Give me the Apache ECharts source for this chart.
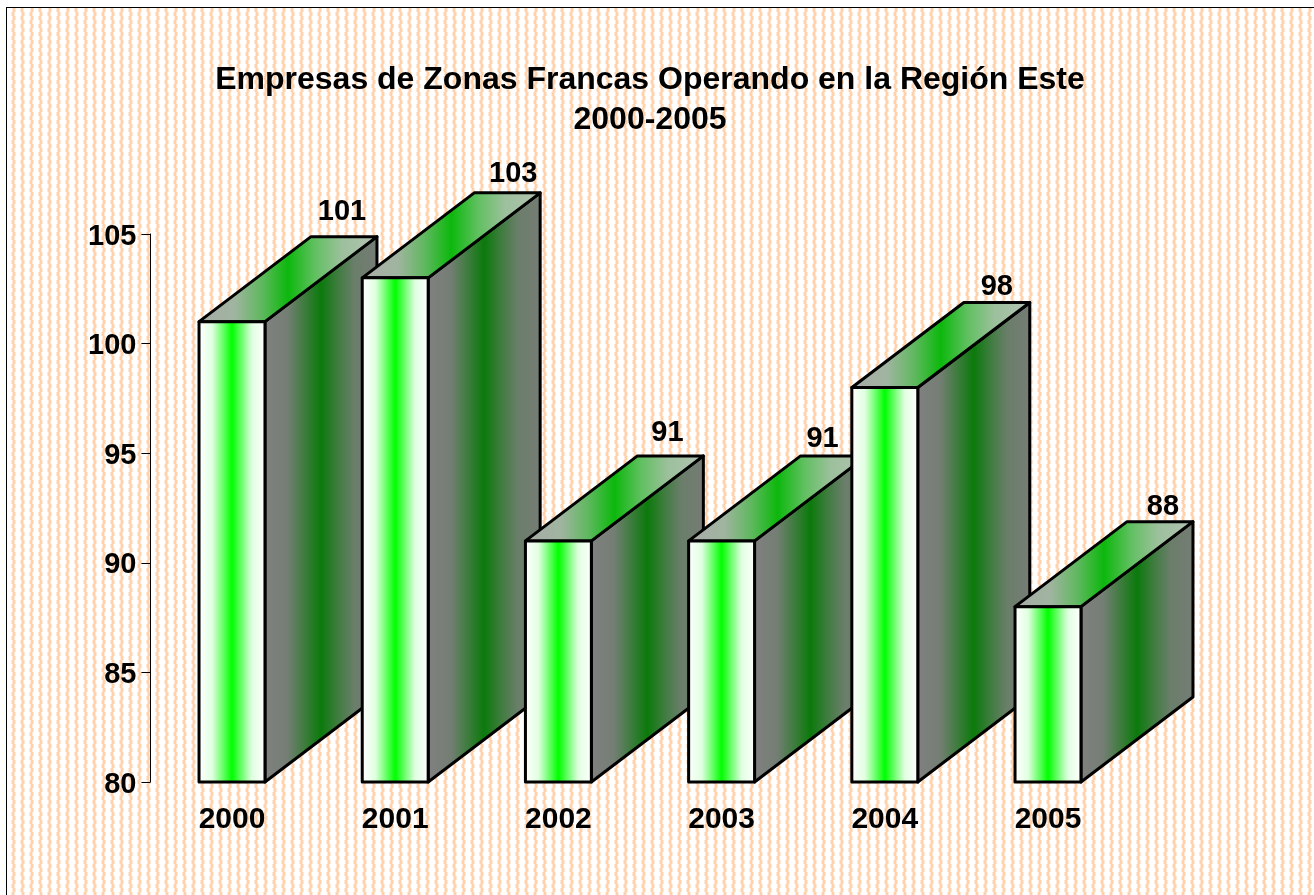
<!DOCTYPE html>
<html><head><meta charset="utf-8">
<style>html,body{margin:0;padding:0;background:#fff}#c{width:1314px;height:895px}</style>
<script src="https://cdn.jsdelivr.net/npm/echarts@6/dist/echarts.min.js"></script></head>
<body><div id="c"></div>
<script>
const years = ['2000','2001','2002','2003','2004','2005'];
const empresas = [101,103,91,91,98,88];
const yTicks = {min:80,max:105,interval:5};
const titleText = 'Empresas de Zonas Francas Operando en la Región Este\n2000-2005';
// hand placement of each value label relative to the top back edge
const labelDx = [-2,6,-3,-11,0,3];
const labelDy = [10,4,8,2,1,0];

function tile(){
  const c=document.createElement('canvas');c.width=18;c.height=8;
  const g=c.getContext('2d');g.fillStyle='#fff';g.fillRect(0,0,18,8);
  const off=[0,0,0,0,1,1,1,1];
  for(let y=0;y<8;y++){
    [[3,0],[12,4]].forEach(function(p){
      const o=off[(y+p[1])%8];
      g.fillStyle='#ffd2ab';g.fillRect(p[0]+o,y,2,1);
      g.fillStyle='#ffe9d6';g.fillRect(p[0]+o-1,y,1,1);g.fillRect(p[0]+o+2,y,1,1);
    });
  }
  return c;
}
const grad=(x,x2,stops)=>new echarts.graphic.LinearGradient(x,0,x2,0,stops.map(s=>({offset:s[0],color:s[1]})),true);
const DX=112,DY=85;
const frontStops=[[0,'#fff'],[.2,'#e0ffe0'],[.35,'#70ff70'],[.5,'#00ff00'],[.65,'#70ff70'],[.8,'#e0ffe0'],[1,'#fff']];
const sideStops=[[0,'#808080'],[.2,'#747e74'],[.35,'#3f7c3f'],[.5,'#0b7a0b'],[.65,'#3f7c3f'],[.8,'#6a7e6a'],[1,'#767c76']];
const topStops=[[0,'#a8aca8'],[.2,'#a0b4a0'],[.35,'#60b860'],[.5,'#0cb80c'],[.65,'#60c060'],[.8,'#9cc09c'],[1,'#b4c2b4']];
function renderItem(params,api){
  const i=api.value(0),v=api.value(1);
  const top=api.coord([i,v]),base=api.coord([i,80]);
  const w=api.size([1,0])[0]*0.404;
  const l=top[0]-w/2,r=top[0]+w/2,t=top[1],b=base[1];
  const line={stroke:'#000',lineWidth:3,lineJoin:'round'};
  return {type:'group',children:[
    {type:'polygon',shape:{points:[[r,t],[r+DX,t-DY],[r+DX,b-DY],[r,b]]},
     style:Object.assign({fill:grad(r,r+DX,sideStops)},line)},
    {type:'polygon',shape:{points:[[l,t],[l+DX,t-DY],[r+DX,t-DY],[r,t]]},
     style:Object.assign({fill:grad(l,r+DX,topStops)},line)},
    {type:'rect',shape:{x:l,y:t,width:w,height:b-t},
     style:Object.assign({fill:grad(l,r,frontStops)},line)},
    {type:'text',z2:50,style:{text:String(v),x:l+DX+w/2+labelDx[i],y:t-DY-labelDy[i],
      textAlign:'center',textVerticalAlign:'bottom',
      font:'bold 29px "Liberation Sans",Arial,sans-serif',fill:'#000'}}
  ]};
}
const chart=echarts.init(document.getElementById('c'),null,{renderer:'canvas'});
const labelFont={color:'#000',fontFamily:'"Liberation Sans",Arial,sans-serif',fontWeight:'bold'};
chart.setOption({
  animation:false,backgroundColor:'#fff',
  title:{text:titleText,left:645,top:55,textAlign:'center',
    textStyle:{fontFamily:'"Liberation Sans",Arial,sans-serif',fontWeight:'bold',fontSize:32,lineHeight:40,color:'#000'}},
  grid:{left:150.4,top:234,width:979.2,height:548},
  xAxis:{type:'category',data:years,axisLine:{show:false},axisTick:{show:false},
    axisLabel:Object.assign({margin:23,fontSize:30},labelFont)},
  yAxis:{type:'value',min:yTicks.min,max:yTicks.max,interval:yTicks.interval,splitLine:{show:false},
    axisLine:{show:true,lineStyle:{color:'#000',width:1}},
    axisTick:{show:true,length:9,lineStyle:{color:'#000',width:1}},
    axisLabel:{margin:14,formatter:'{a|{value}}',
      rich:{a:Object.assign({fontSize:29,padding:[5,0,0,0]},labelFont)}}},
  graphic:[
    {type:'rect',z:-1,shape:{x:7,y:8,width:1307,height:887},style:{fill:{image:tile(),repeat:'repeat'}}},
    {type:'line',z:-1,shape:{x1:6.5,y1:7,x2:6.5,y2:895},style:{stroke:'#000',lineWidth:1}},
    {type:'line',z:-1,shape:{x1:6,y1:7.5,x2:1314,y2:7.5},style:{stroke:'#000',lineWidth:1}}
  ],
  series:[{type:'custom',renderItem,coordinateSystem:'cartesian2d',clip:false,
    data:years.map((y,i)=>[i,empresas[i]]),encode:{x:0,y:1}}]
});
</script></body></html>
